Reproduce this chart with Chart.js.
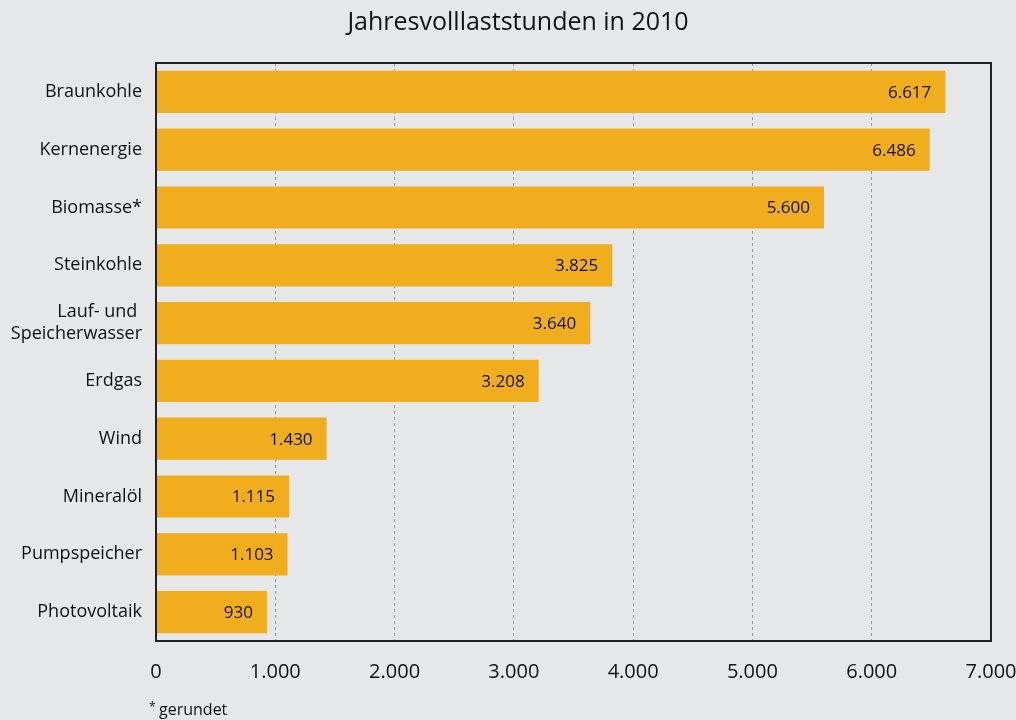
<!DOCTYPE html>
<html>
<head>
<meta charset="utf-8">
<script src="https://cdn.jsdelivr.net/npm/chart.js@4.4.1/dist/chart.umd.min.js"></script>
<style>
  html, body { margin: 0; padding: 0; background: #e6e7e9; }
  canvas { display: block; }
</style>
</head>
<body>
<canvas id="myChart" width="1016" height="720"></canvas>
<script>
// Data
const categories = ['Braunkohle', 'Kernenergie', 'Biomasse*', 'Steinkohle', ['Lauf- und ', 'Speicherwasser'],
                    'Erdgas', 'Wind', 'Mineralöl', 'Pumpspeicher', 'Photovoltaik'];
const hours = [6617, 6486, 5600, 3825, 3640, 3208, 1430, 1115, 1103, 930];
const xTicks = [0, 1000, 2000, 3000, 4000, 5000, 6000, 7000];
const title = 'Jahresvolllaststunden in 2010';

const FONT = '"Open Sans", "Noto Sans", sans-serif';
const BAR = '#f0ad1e';

// German thousands separator
function fmt(v) {
    return String(v).replace(/\B(?=(\d{3})+(?!\d))/g, '.');
}

// title, frame, value labels and footnote
const extras = {
    id: 'extras',
    afterDatasetsDraw(chart) {
        const ctx = chart.ctx;
        const meta = chart.getDatasetMeta(0);
        ctx.save();
        ctx.font = '17px ' + FONT;
        ctx.fillStyle = '#111';
        ctx.textAlign = 'right';
        ctx.textBaseline = 'middle';
        meta.data.forEach((bar, i) => {
            ctx.fillText(fmt(hours[i]), bar.x - 14, bar.y + 1);
        });
        ctx.restore();
    },
    afterDraw(chart) {
        const ctx = chart.ctx;
        const a = chart.chartArea;
        ctx.save();
        ctx.strokeStyle = '#222';
        ctx.lineWidth = 2;
        ctx.strokeRect(a.left, a.top, a.right - a.left, a.bottom - a.top);

        ctx.fillStyle = '#111';
        ctx.textBaseline = 'alphabetic';
        ctx.textAlign = 'center';
        ctx.font = '25px ' + FONT;
        ctx.fillText(title, 518, 30);

        ctx.textAlign = 'left';
        ctx.font = '12px ' + FONT;
        ctx.fillText('*', 149, 711);
        ctx.font = '16px ' + FONT;
        ctx.fillText('gerundet', 159, 715);
        ctx.restore();
    }
};

const ctx = document.getElementById('myChart').getContext('2d');
const myChart = new Chart(ctx, {
    type: 'bar',
    data: {
        labels: categories,
        datasets: [{
            data: hours,
            backgroundColor: BAR,
            borderWidth: 0,
            barPercentage: 0.73,
            categoryPercentage: 1
        }]
    },
    options: {
        indexAxis: 'y',
        responsive: false,
        animation: false,
        layout: { padding: { left: 0, right: 0, top: 63, bottom: 0 } },
        plugins: {
            legend: { display: false },
            tooltip: { enabled: false },
            title: { display: false }
        },
        scales: {
            x: {
                min: 0,
                max: 7000,
                afterBuildTicks: scale => { scale.ticks = xTicks.map(v => ({ value: v })); },
                afterFit: scale => { scale.height = 79; scale.paddingRight = 25; },
                grid: {
                    color: ctx => (ctx.tick && (ctx.tick.value === 0 || ctx.tick.value === 7000)) ? 'rgba(0,0,0,0)' : '#9a9a9a',
                    lineWidth: 1,
                    drawTicks: false
                },
                border: { display: false, dash: [3, 3] },
                ticks: {
                    color: '#111',
                    font: { family: FONT, size: 20 },
                    padding: 19,
                    maxRotation: 0,
                    callback: v => fmt(v)
                }
            },
            y: {
                afterFit: scale => { scale.width = 156; },
                grid: { display: false, drawTicks: false },
                border: { display: false },
                ticks: {
                    color: '#111',
                    font: { family: FONT, size: 18, lineHeight: 1.25 },
                    padding: 14
                }
            }
        }
    },
    plugins: [extras]
});
</script>
</body>
</html>
